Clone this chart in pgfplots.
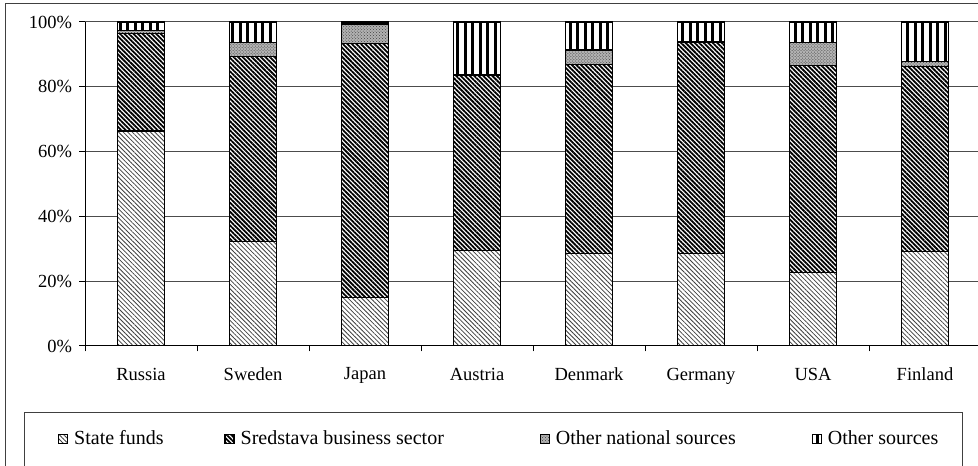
\documentclass[border=0pt]{standalone}
\usepackage{pgfplots}
\pgfplotsset{compat=1.18}
\usepackage{pgfplotstable}
\usepackage{fontspec}
\setmainfont{Liberation Serif}
\usetikzlibrary{patterns,patterns.meta}

\pgfplotstableread{
x state bus natl other
0 66.4 30.1 0.8 2.7
1 32.2 57.1 4.4 6.3
2 15.0 78.4 6.0 0.6
3 29.5 54.1 0.3 16.1
4 28.6 58.3 4.5 8.6
5 28.6 65.1 0.3 6.0
6 22.7 63.8 7.2 6.3
7 29.1 57.1 1.6 12.2
}\datatable

\tikzset{
  segbase/.style={draw=black, line width=1.3bp},
  statep/.style={segbase, preaction={fill=white}, pattern={Lines[angle=-45, distance=3.2bp, line width=0.8bp]}, pattern color=black!75},
  busp/.style={segbase, preaction={fill=white}, pattern={Lines[angle=-45, distance=3.2bp, line width=1.8bp]}, pattern color=black},
  natlp/.style={segbase, preaction={fill=black!30}, pattern=crosshatch dots, pattern color=black!75},
  otherp/.style={segbase, preaction={fill=white}, pattern={Lines[angle=90, distance=7.5bp, line width=3bp]}, pattern color=black},
}
\pgfplotsset{
  mylegimg/.style={legend image code/.code={\draw[##1, line width=1bp] (0bp,-4.5bp) rectangle (9bp,4.5bp);}},
}

\begin{document}
\fontsize{18.5bp}{22bp}\selectfont
\begin{tikzpicture}[x=1bp,y=1bp,font=\fontsize{18.5bp}{22bp}\selectfont]
\path[use as bounding box] (0,0) rectangle (978,466);
\draw[black!75, line width=1bp] (5,-5) -- (5,462) -- (990,462);
\draw[black!75, line width=1bp] (24,-5) -- (24,53) -- (962,53) -- (962,-5);
\begin{axis}[
  at={(85bp,120bp)}, anchor=south west,
  scale only axis, width=896bp, height=324bp,
  ybar stacked, bar width=47bp,
  xmin=-0.5, xmax=7.5, ymin=0, ymax=100,
  axis lines=left, axis line style={-, line width=1bp, black},
  xtick={-0.5,0.5,...,6.5}, xticklabels={},
  extra x ticks={0,1,2,3,4,5,6,7},
  extra x tick labels={Russia,Sweden,Japan,Austria,Denmark,Germany,USA,Finland},
  extra x tick style={tick style={draw=none}, grid=none},
  ytick={0,20,...,100}, yticklabels={0\%,20\%,40\%,60\%,80\%,100\%},
  tick align=outside, major tick length=5.5bp,
  tick style={black, line width=1bp},
  ymajorgrids, grid style={black!70, line width=1bp},
  tick label style={font=\fontsize{18.5bp}{22bp}\selectfont},
  xticklabel style={yshift=-10bp},
  yticklabel style={xshift=-1bp},
  /pgf/number format/assume math mode=true,
  legend columns=4,
  legend style={draw=none, fill=none, at={(-0.0301,-0.287)}, anchor=west, inner sep=0pt,
    font=\fontsize{20bp}{24bp}\selectfont,
    /tikz/every odd column/.append style={column sep=4bp},
    /tikz/column 2/.append style={column sep=59bp},
    /tikz/column 4/.append style={column sep=94bp},
    /tikz/column 6/.append style={column sep=74bp}},
]
\addplot[statep, mylegimg] table[x=x, y=state] {\datatable};
\addplot[busp, mylegimg] table[x=x, y=bus] {\datatable};
\addplot[natlp, mylegimg] table[x=x, y=natl] {\datatable};
\addplot[otherp, mylegimg] table[x=x, y=other] {\datatable};
\legend{State funds, Sredstava business sector, Other national sources, Other sources}
\end{axis}
\end{tikzpicture}
\end{document}
